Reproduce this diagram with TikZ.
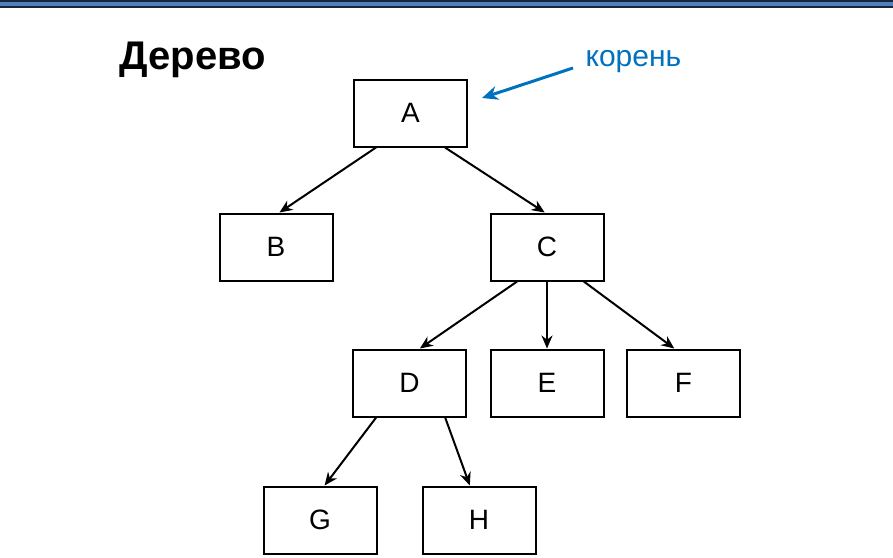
\documentclass[tikz,border=0pt]{standalone}
\usepackage{fontspec}
\setmainfont{Liberation Sans}
\usetikzlibrary{calc,arrows.meta}
\definecolor{barblue}{RGB}{79,129,189}
\definecolor{barnavy}{RGB}{23,37,64}
\definecolor{rootblue}{RGB}{0,112,192}
\begin{document}
\begin{tikzpicture}[x=1pt,y=-1pt,
  box/.style={draw,line width=2pt,minimum width=113pt,minimum height=67pt,inner sep=0pt,font=\fontsize{28}{30}\selectfont},
  edge/.style={line width=2pt,-{Stealth[length=13pt,width=11pt]}}]
\useasboundingbox (0,0) rectangle (893,557);
\fill[barnavy] (0,0) rectangle (893,8);
\fill[barblue] (0,2) rectangle (893,6);
\node[anchor=west,font=\bfseries\fontsize{40}{44}\selectfont] (title) at (116,60) {Дерево};
\node[anchor=west,text=rootblue,font=\fontsize{30}{32}\selectfont] (root) at (582,62) {корень};
\node[box] (A) at (410.5,113) {A};
\node[box] (B) at (276,247) {B};
\node[box] (C) at (547,247) {C};
\node[box] (D) at (409.5,383) {D};
\node[box] (E) at (547,383) {E};
\node[box] (F) at (683.5,383) {F};
\node[box] (G) at (320,520) {G};
\node[box] (H) at (479,520) {H};
\coordinate (rs) at (573,68);
\coordinate (re) at (482,98);
\draw[line width=3pt,rootblue,-{Stealth[length=16pt,width=14pt]}] (rs) -- (re);
\draw[edge] ($(A.south west)!0.2!(A.south east)$) -- ($(B.north west)!0.53!(B.north east)$);
\draw[edge] ($(A.south west)!0.8!(A.south east)$) -- ($(C.north west)!0.48!(C.north east)$);
\draw[edge] ($(C.south west)!0.24!(C.south east)$) -- ($(D.north west)!0.59!(D.north east)$);
\draw[edge] (C.south) -- (E.north);
\draw[edge] ($(C.south west)!0.82!(C.south east)$) -- ($(F.north west)!0.42!(F.north east)$);
\draw[edge] ($(D.south west)!0.21!(D.south east)$) -- ($(G.north west)!0.54!(G.north east)$);
\draw[edge] ($(D.south west)!0.81!(D.south east)$) -- ($(H.north west)!0.42!(H.north east)$);
\end{tikzpicture}
\end{document}
